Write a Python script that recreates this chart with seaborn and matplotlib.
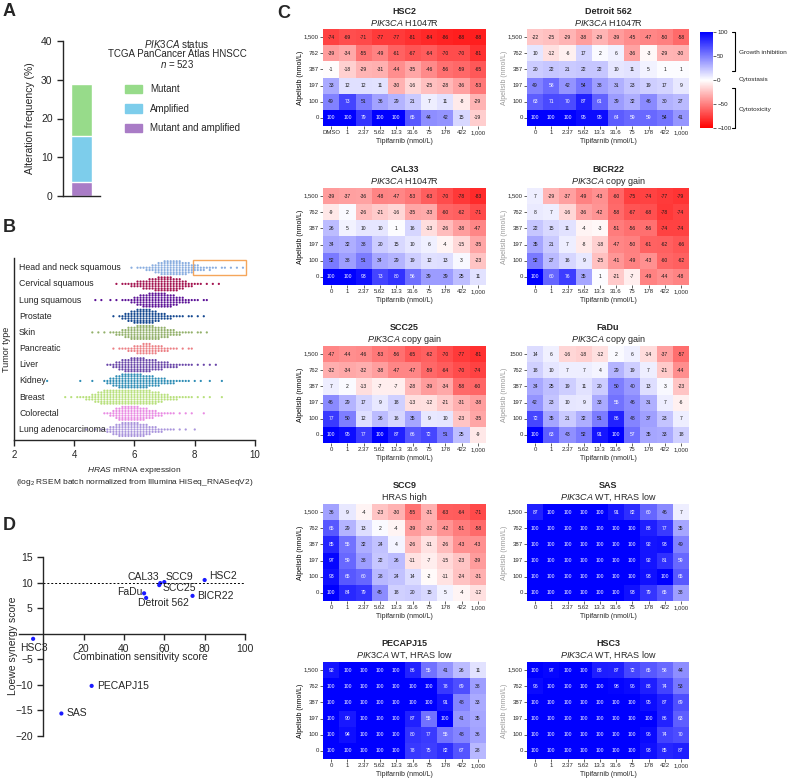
import warnings
import numpy as np
import pandas as pd
import matplotlib
matplotlib.use("Agg")
import matplotlib.pyplot as plt
from matplotlib.patches import Rectangle
from matplotlib.lines import Line2D
import seaborn as sns

warnings.filterwarnings("ignore")

# ---------------- panel A data
alt_labels = ["Mutant", "Amplified", "Mutant and amplified"]
alt_values = [13.5, 11.9, 3.6]
alt_colors = ["#97DB8A", "#7DCDEB", "#A97CC6"]

# ---------------- panel B data (counts per 0.1 bin)
tumor_types = ["Head and neck squamous", "Cervical squamous", "Lung squamous", "Prostate",
               "Skin", "Pancreatic", "Liver", "Kidney", "Breast", "Colorectal",
               "Lung adenocarcinoma"]
tumor_colors = ["#8AAEE0", "#A3134F", "#5B1196", "#13478F", "#92B06A", "#EC7F84",
                "#6844A8", "#2E8DB5", "#B8E07C", "#E98BE3", "#A994DC"]
hras_start = [5.9, 5.4, 4.7, 5.3, 4.6, 5.3, 5.1, 3.1, 3.7, 5.0, 4.4]
hras_counts = [
    [1, 0, 1, 1, 1, 2, 2, 3, 4, 5, 6, 7, 7, 7, 7, 7, 7, 6, 6, 5, 4, 3, 3, 2, 2, 1, 2, 1, 1, 0, 1, 1, 0, 1, 0, 1, 0, 1],
    [1, 0, 1, 1, 1, 2, 2, 3, 3, 4, 4, 5, 5, 6, 7, 7, 7, 7, 7, 6, 6, 5, 4, 3, 2, 2, 1, 1, 1, 0, 1, 0, 1, 0, 1],
    [1, 0, 1, 0, 0, 1, 0, 1, 0, 1, 1, 1, 2, 3, 4, 5, 6, 6, 7, 7, 7, 7, 7, 7, 6, 6, 5, 4, 3, 3, 2, 2, 1, 1, 1, 0, 1, 1],
    [1, 0, 1, 2, 3, 4, 5, 6, 7, 7, 7, 7, 7, 6, 5, 4, 3, 3, 2, 2, 1, 1, 1, 1, 0, 1, 1, 0, 1, 0, 1],
    [1, 0, 1, 0, 1, 0, 1, 1, 2, 2, 3, 4, 5, 6, 6, 7, 7, 7, 7, 7, 7, 6, 6, 5, 5, 4, 3, 3, 2, 2, 1, 1, 1, 1, 0, 1, 1, 0, 1],
    [1, 0, 1, 1, 1, 2, 2, 3, 4, 4, 5, 5, 5, 4, 4, 3, 3, 2, 2, 1, 1, 1, 0, 1, 0, 1, 1],
    [1, 1, 2, 3, 4, 5, 6, 6, 7, 7, 7, 7, 7, 6, 6, 5, 5, 4, 4, 3, 3, 2, 2, 2, 1, 1, 1, 1, 1, 0, 1, 0, 1, 0, 1, 0, 1],
    [1, 0, 0, 0, 0, 0, 0, 0, 0, 0, 0, 1, 0, 0, 0, 1, 0, 0, 0, 1, 2, 3, 4, 5, 6, 7, 7, 7, 7, 7, 7, 7, 6, 6, 5,
     5, 4, 4, 3, 3, 2, 2, 2, 1, 1, 1, 1, 1, 0, 1, 0, 1, 0, 0, 1, 0, 0, 0, 1],
    [1, 0, 1, 0, 1, 1, 1, 2, 2, 3, 4, 5, 6, 7, 7, 7, 7, 7, 7, 7, 7, 7, 7, 7, 7, 7, 7, 7, 7, 6, 6, 5, 4, 3, 3,
     2, 2, 2, 1, 1, 1, 1, 1, 0, 1, 0, 1, 0, 1, 0, 0, 0, 1],
    [1, 1, 2, 3, 5, 6, 7, 7, 7, 7, 7, 7, 6, 6, 5, 4, 4, 3, 2, 2, 1, 1, 1, 1, 0, 1, 0, 1, 0, 1, 0, 0, 0, 1],
    [1, 0, 0, 1, 0, 1, 1, 2, 3, 4, 5, 6, 7, 7, 7, 7, 7, 7, 6, 6, 5, 4, 3, 3, 2, 2, 1, 1, 1, 1, 0, 1, 0, 1, 0, 0, 1],
]
hn_box = [7.95, 9.7]

# ---------------- panel C data (rows: alpelisib 1,500 -> 0; cols: tipifarnib 0 -> 1,000)
alpelisib = ["1,500", "762", "387", "197", "100", "0"]
tipifarnib = ["0", "1", "2.37", "5.62", "13.3", "31.6", "75", "178", "422", "1,000"]

hsc2 = [[-74, -69, -71, -77, -77, -81, -84, -86, -88, -88],
        [-39, -34, -55, -49, -61, -67, -64, -70, -70, -81],
        [-1, -18, -29, -31, -44, -35, -46, -56, -59, -65],
        [33, 12, 12, 11, -30, -16, -25, -28, -36, -53],
        [49, 73, 51, 36, 29, 21, 7, 11, -8, -29],
        [100, 100, 79, 100, 100, 65, 44, 42, 15, -19]]
detroit562 = [[-22, -25, -29, -38, -29, -39, -45, -47, -50, -58],
              [10, -12, -6, 17, 2, 6, -36, -3, -29, -30],
              [20, 22, 21, 22, 22, 10, 11, 5, 1, 1],
              [49, 58, 42, 54, 38, 31, 23, 19, 17, 9],
              [63, 71, 70, 87, 61, 39, 32, 46, 30, 27],
              [100, 100, 100, 95, 95, 64, 59, 59, 54, 41]]
cal33 = [[-39, -37, -36, -48, -47, -53, -63, -70, -78, -83],
         [-9, 2, -26, -21, -16, -35, -33, -60, -62, -71],
         [26, 5, 10, 10, 1, 16, -13, -26, -38, -47],
         [34, 32, 38, 20, 15, 10, 6, -4, -15, -35],
         [52, 38, 51, 34, 29, 19, 12, 13, 3, -23],
         [100, 100, 93, 73, 80, 56, 39, 39, 25, 11]]
bicr22 = [[7, -29, -37, -49, -43, -60, -75, -74, -77, -79],
          [8, 7, -16, -36, -42, -58, -67, -68, -78, -74],
          [22, 15, 11, -4, -3, -51, -56, -56, -74, -74],
          [35, 21, 7, -8, -18, -47, -50, -61, -62, -66],
          [52, 27, 16, 9, -25, -41, -49, -43, -60, -62],
          [100, 60, 76, 35, 1, -21, -7, -49, -44, -48]]
scc25 = [[-47, -44, -46, -53, -56, -65, -62, -70, -77, -81],
         [-32, -34, -32, -38, -47, -47, -59, -64, -70, -74],
         [7, 2, -13, -7, -7, -28, -39, -34, -58, -60],
         [46, 29, 17, 9, 18, -13, -12, -21, -31, -38],
         [77, 50, 12, 26, 16, 35, 9, 10, -23, -35],
         [100, 95, 77, 100, 87, 66, 72, 51, 25, -9]]
fadu = [[14, 6, -16, -18, -12, 2, 6, -14, -37, -57],
        [18, 10, 7, 7, 4, 29, 19, 7, -21, -44],
        [34, 25, 19, 11, 20, 50, 40, 13, 3, -23],
        [42, 23, 10, 9, 33, 55, 46, 31, 7, -6],
        [72, 35, 21, 32, 51, 86, 48, 37, 23, 7],
        [100, 63, 43, 52, 91, 100, 57, 35, 33, 18]]
scc9 = [[36, 9, -4, -23, -30, -55, -31, -63, -64, -71],
        [65, 29, 13, 2, -4, -39, -32, -42, -51, -58],
        [85, 55, 32, 24, 4, -26, -11, -26, -43, -43],
        [97, 59, 38, 22, 26, -11, -7, -15, -23, -39],
        [93, 65, 60, 28, 24, 14, -2, -11, -24, -31],
        [100, 84, 79, 45, 18, 20, 15, 5, -4, -12]]
sas = [[87, 100, 100, 100, 100, 91, 82, 60, 46, 7],
       [100, 100, 100, 100, 100, 100, 100, 88, 77, 35],
       [100, 100, 100, 100, 100, 100, 100, 92, 93, 49],
       [100, 100, 100, 100, 100, 100, 100, 92, 81, 59],
       [100, 100, 100, 100, 100, 100, 100, 93, 100, 65],
       [100, 100, 100, 100, 100, 100, 93, 79, 65, 38]]
pecapj15 = [[92, 100, 100, 100, 100, 86, 55, 41, 26, 11],
            [100, 100, 100, 100, 100, 100, 100, 78, 69, 38],
            [100, 100, 100, 100, 100, 100, 100, 91, 48, 33],
            [100, 90, 100, 100, 100, 87, 55, 100, 41, 35],
            [100, 94, 100, 100, 100, 80, 77, 55, 48, 36],
            [100, 100, 100, 100, 100, 78, 75, 82, 67, 28]]
hsc3 = [[100, 97, 100, 100, 88, 87, 72, 65, 58, 44],
        [96, 100, 100, 100, 100, 98, 96, 88, 74, 53],
        [100, 100, 100, 100, 100, 100, 100, 95, 87, 69],
        [100, 100, 100, 100, 100, 100, 100, 100, 86, 63],
        [100, 100, 100, 100, 100, 100, 100, 96, 74, 70],
        [100, 100, 100, 100, 100, 100, 100, 93, 85, 87]]

# ---------------- panel D data
lines_d = ["HSC2", "CAL33", "SCC9", "SCC25", "FaDu", "Detroit 562", "BICR22", "HSC3", "PECAPJ15", "SAS"]
css = [80, 58, 60, 57.5, 50, 51, 74, -5, 24, 9]
loewe = [10.5, 9.9, 10.1, 9.5, 7.9, 7.0, 7.4, -1.0, -10.2, -15.6]

# ------------------------------------------------------------ style
sns.set_style("ticks")
plt.rcParams["font.family"] = ["Liberation Sans", "DejaVu Sans"]
plt.rcParams["mathtext.fontset"] = "custom"
plt.rcParams["mathtext.rm"] = "Liberation Sans"
plt.rcParams["mathtext.it"] = "Liberation Sans:italic"
plt.rcParams["axes.linewidth"] = 1.0

W, H = 791, 783
fig = plt.figure(figsize=(W / 100, H / 100), dpi=100)


def box(x0, y0, x1, y1):
    return fig.add_axes([x0 / W, 1 - y1 / H, (x1 - x0) / W, (y1 - y0) / H])


def put(x, y, s, **kw):
    kw.setdefault("ha", "center")
    kw.setdefault("va", "center")
    fig.text(x / W, 1 - y / H, s, **kw)


def pline(xs, ys, **kw):
    fig.add_artist(Line2D([x / W for x in xs], [1 - y / H for y in ys],
                          transform=fig.transFigure, color="black", lw=0.8, **kw))


for lab, (x, y) in zip("ABCD", [(9, 12), (9, 227), (284, 13), (9, 525)]):
    put(x, y, lab, fontsize=13, fontweight="bold")

# ------------------------------------------------------------ A
axA = box(63, 41, 100, 196)
cum = np.cumsum(alt_values[::-1])[::-1]
for h, c in zip(cum, alt_colors):
    sns.barplot(x=["all"], y=[h], color=c, saturation=1, width=1.0, ax=axA)
axA.set_xlim(-0.88, 0.88)
axA.set_ylim(0, 40)
axA.set_yticks([0, 10, 20, 30, 40])
axA.set_xticks([])
axA.tick_params(axis="y", labelsize=7.5, length=4, width=1)
axA.set_ylabel("Alteration frequency (%)", fontsize=7.5, labelpad=4)
sns.despine(ax=axA)
put(177, 44, "$\\it{PIK3CA}$ status", fontsize=7)
put(177, 54, "TCGA PanCancer Atlas HNSCC", fontsize=7)
put(177, 64, "$\\it{n}$ = 523", fontsize=7)
for i, (lab, c) in enumerate(zip(alt_labels, alt_colors)):
    yc = 89 + 19.5 * i
    fig.add_artist(Rectangle((125 / W, 1 - (yc + 4) / H), 17 / W, 8 / H,
                             transform=fig.transFigure, color=c))
    put(150, yc, lab, fontsize=7, ha="left")

# ------------------------------------------------------------ B
rows = []
for t, s0, cnt in zip(tumor_types, hras_start, hras_counts):
    for i, n in enumerate(cnt):
        rows += [(t, round(s0 + 0.1 * i, 2))] * n
dfB = pd.DataFrame(rows, columns=["tumor", "hras"])
axB = box(14, 258, 255, 440)
sns.swarmplot(data=dfB, x="hras", y="tumor", hue="tumor", order=tumor_types,
              hue_order=tumor_types, palette=tumor_colors, size=1.6, orient="h",
              legend=False, ax=axB)
axB.set_xlim(2, 10)
axB.set_ylim(10.65, -0.6)
axB.set_yticks([])
axB.set_xticks([2, 4, 6, 8, 10])
axB.tick_params(axis="x", labelsize=7, length=4, width=1)
for i, t in enumerate(tumor_types):
    axB.text(2.17, i, t, fontsize=6.3, ha="left", va="center")
axB.add_patch(Rectangle((hn_box[0], -0.47), hn_box[1] - hn_box[0], 0.95,
                        fill=False, ec="#F5A65B", lw=1))
axB.set_ylabel("Tumor type", fontsize=6.5, labelpad=2)
axB.set_xlabel("$\\it{HRAS}$ mRNA expression\n(log$_2$ RSEM batch normalized from Illumina HiSeq_RNASeqV2)",
               fontsize=6, labelpad=3)
sns.despine(ax=axB)

# ------------------------------------------------------------ C
heat_specs = [
    ("HSC2", "$\\it{PIK3CA}$ H1047R", hsc2, 0, 0),
    ("Detroit 562", "$\\it{PIK3CA}$ H1047R", detroit562, 1, 0),
    ("CAL33", "$\\it{PIK3CA}$ H1047R", cal33, 0, 1),
    ("BICR22", "$\\it{PIK3CA}$ copy gain", bicr22, 1, 1),
    ("SCC25", "$\\it{PIK3CA}$ copy gain", scc25, 0, 2),
    ("FaDu", "$\\it{PIK3CA}$ copy gain", fadu, 1, 2),
    ("SCC9", "HRAS high", scc9, 0, 3),
    ("SAS", "$\\it{PIK3CA}$ WT, HRAS low", sas, 1, 3),
    ("PECAPJ15", "$\\it{PIK3CA}$ WT, HRAS low", pecapj15, 0, 4),
    ("HSC3", "$\\it{PIK3CA}$ WT, HRAS low", hsc3, 1, 4),
]
col_x = [(323, 486), (527, 689)]
row_top = [29, 188, 346, 504, 662]
hh = 97

for name, sub, vals, c, r in heat_specs:
    x0, x1 = col_x[c]
    y0 = row_top[r]
    ax = box(x0, y0, x1, y0 + hh)
    xl = list(tipifarnib)
    if name == "HSC2":
        xl[0] = "DMSO"
    yl = list(alpelisib)
    if name == "FaDu":
        yl[0] = "1500"
    df = pd.DataFrame(vals, index=yl, columns=xl)
    sns.heatmap(df, cmap="bwr_r", vmin=-100, vmax=100, annot=True, fmt="d", cbar=False,
                xticklabels=True, yticklabels=True, ax=ax,
                annot_kws={"fontsize": 3.6})
    for t, v in zip(ax.texts, np.array(vals).ravel()):
        t.set_color("white" if v >= 55 else "#1a1a1a")
    ax.tick_params(length=2, width=0.5, labelsize=4.3, pad=1)
    ax.set_yticklabels(yl, rotation=0)
    ax.set_xticklabels(xl, rotation=0)
    ax.set_xlabel("Tipifarnib (nmol/L)", fontsize=5, labelpad=2)
    ax.set_ylabel("")
    xm = (x0 + x1) / 2
    put(xm, y0 - 18, name, fontsize=6.5, fontweight="bold")
    put(xm, y0 - 7, sub, fontsize=6.5)
    put(300 if c == 0 else 504, y0 + hh / 2, "Alpelisib (nmol/L)", fontsize=5, rotation=90,
        color="black" if c == 0 else "#999999")

cax = box(700, 32, 713, 128)
sm = plt.cm.ScalarMappable(cmap="bwr_r", norm=plt.Normalize(-100, 100))
cb = fig.colorbar(sm, cax=cax, ticks=[-100, -50, 0, 50, 100])
cb.outline.set_visible(False)
cax.tick_params(labelsize=4.5, length=2, width=0.5, pad=1)
pline([732, 735, 735, 732], [32, 32, 71, 71])
pline([732, 735, 735, 732], [88, 88, 128, 128])
put(739, 52, "Growth inhibition", fontsize=4.6, ha="left")
put(739, 80, "Cytostasis", fontsize=4.6, ha="left")
put(739, 109, "Cytotoxicity", fontsize=4.6, ha="left")

# ------------------------------------------------------------ D
axD = box(19, 557, 245, 736)
sns.scatterplot(x=css, y=loewe, color="#1a1aff", s=9, edgecolor="none", ax=axD)
axD.plot([0, 100], [10, 10], ls=(0, (2, 2)), color="black", lw=0.7)
axD.set_xlim(-12, 100)
axD.set_ylim(-20, 15)
axD.spines["left"].set_position(("data", 0))
axD.spines["bottom"].set_position(("data", 0))
sns.despine(ax=axD)
axD.set_xticks([20, 40, 60, 80, 100])
axD.set_yticks([-20, -15, -10, -5, 5, 10, 15])
axD.tick_params(labelsize=7.5, length=4, width=1)
label_pos = {"HSC2": (2, 0.7, "left"), "CAL33": (-0.5, 1.2, "right"), "SCC9": (0.8, 1.0, "left"),
             "SCC25": (1.5, -0.6, "left"), "FaDu": (-1, 0.2, "right"), "Detroit 562": (-4, -1.0, "left"),
             "BICR22": (2.5, 0.0, "left"), "HSC3": (0.5, -1.8, "center"),
             "PECAPJ15": (2.5, 0.0, "left"), "SAS": (2.5, 0.0, "left")}
for nm, x, y in zip(lines_d, css, loewe):
    dx, dy, ha = label_pos[nm]
    axD.text(x + dx, y + dy, nm, fontsize=7.5, ha=ha, va="center")
axD.text(48, -4.6, "Combination sensitivity score", fontsize=7.5, ha="center", va="center")
put(13, 646, "Loewe synergy score", fontsize=7.5, rotation=90)

fig.savefig("out.png", dpi=100)
